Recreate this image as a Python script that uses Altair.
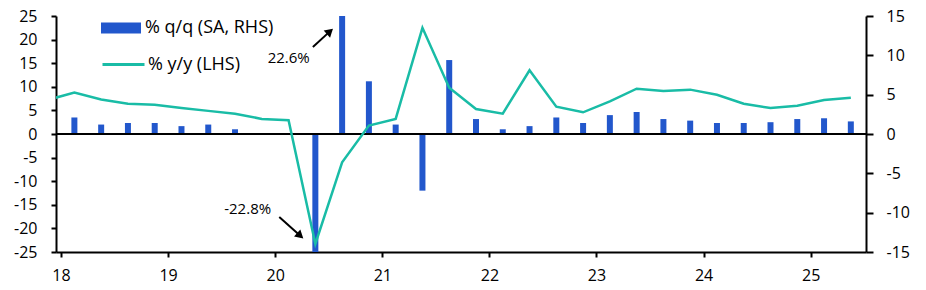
import altair as alt
import pandas as pd

FONT = "Open Sans"
BLUE = "#2257CC"
TEAL = "#19BCA6"

quarters = ["17Q4",
            "18Q1", "18Q2", "18Q3", "18Q4",
            "19Q1", "19Q2", "19Q3", "19Q4",
            "20Q1", "20Q2", "20Q3", "20Q4",
            "21Q1", "21Q2", "21Q3", "21Q4",
            "22Q1", "22Q2", "22Q3", "22Q4",
            "23Q1", "23Q2", "23Q3", "23Q4",
            "24Q1", "24Q2", "24Q3", "24Q4",
            "25Q1", "25Q2"]
qoq = [None,
       2.1, 1.2, 1.4, 1.4,
       1.0, 1.2, 0.6, 0.0,
       0.0, -22.8, 22.6, 6.7,
       1.2, -7.2, 9.4, 1.9,
       0.6, 1.0, 2.1, 1.4,
       2.4, 2.8, 1.9, 1.7,
       1.4, 1.4, 1.5, 1.9,
       2.0, 1.6]
yoy = [7.2,
       8.8, 7.3, 6.4, 6.2,
       5.5, 4.9, 4.3, 3.2,
       2.9, -23.3, -6.0, 1.8,
       3.2, 22.5, 9.8, 5.3,
       4.3, 13.5, 5.8, 4.6,
       6.9, 9.6, 9.1, 9.4,
       8.3, 6.4, 5.5, 6.0,
       7.2, 7.7]

bar_name = "% q/q (SA, RHS)"
line_name = "% y/y (LHS)"

# annotation texts and arrows (left-axis units)
ann_text = ["22.6%", "-22.8%"]
ann_x = [20.126, 19.743]
ann_y = [16.1, -15.9]
arr_x = [20.352, 20.038]
arr_y = [18.43, -17.58]
arr_x2 = [20.511, 20.234]
arr_y2 = [21.74, -21.55]
arr_angle = [47.9, 131.4]

t = [int(q[:2]) + (int(q[3]) - 0.5) / 4 for q in quarters]
df = pd.DataFrame({"t": t, "qoq": qoq, "yoy": yoy})
df["bs"] = bar_name
df["ls"] = line_name
bars_df = df.dropna(subset=["qoq"])
ann_df = pd.DataFrame({"text": ann_text, "x": ann_x, "y": ann_y})
arr_df = pd.DataFrame({"x": arr_x, "y": arr_y, "x2": arr_x2, "y2": arr_y2, "angle": arr_angle})
zero_df = pd.DataFrame({"v": [0]})

xscale = alt.Scale(domain=[18, 25.47], nice=False, zero=False)
lscale = alt.Scale(domain=[-25, 25], nice=False)
rscale = alt.Scale(domain=[-15, 15], nice=False)

common = dict(grid=False, title=None, domainColor="black", domainWidth=2,
              tickColor="black", tickWidth=2, labelColor="black",
              labelFontSize=16, labelFont=FONT, labelOverlap=False)

xaxis = alt.Axis(values=list(range(18, 26)), format="d", tickSize=5,
                 labelPadding=10, **common)
laxis = alt.Axis(orient="left", values=list(range(-25, 26, 5)), tickSize=5,
                 labelPadding=14, labelExpr="'' + datum.value", **common)
raxis = alt.Axis(orient="right", values=list(range(-15, 16, 5)), tickSize=7,
                 labelPadding=13, labelExpr="'' + datum.value", **common)

bars = alt.Chart(bars_df).mark_bar(size=6, clip=True).encode(
    x=alt.X("t:Q", scale=xscale, axis=xaxis),
    y=alt.Y("qoq:Q", scale=rscale, axis=raxis),
    y2=alt.datum(0),
    color=alt.Color("bs:N", scale=alt.Scale(domain=[bar_name], range=[BLUE]),
                    legend=alt.Legend(
                        title=None, orient="none", legendX=45, legendY=-8,
                        symbolType="M-1,-0.28H1V0.28H-1Z", symbolSize=1600,
                        symbolStrokeWidth=0, labelFontSize=18, labelFont=FONT,
                        labelColor="black", labelOffset=4, padding=0)),
)

zero = alt.Chart(zero_df).mark_rule(color="black", strokeWidth=2).encode(
    y=alt.Y("v:Q", scale=lscale, axis=laxis),
)

line = alt.Chart(df).mark_line(strokeWidth=2.5, clip=True).encode(
    x=alt.X("t:Q", scale=xscale, axis=xaxis),
    y=alt.Y("yoy:Q", scale=lscale, axis=laxis),
    stroke=alt.Stroke("ls:N", scale=alt.Scale(domain=[line_name], range=[TEAL]),
                      legend=alt.Legend(
                          title=None, orient="none", legendX=45, legendY=26,
                          symbolType="stroke", symbolSize=1764,
                          symbolStrokeWidth=3, labelFontSize=18, labelFont=FONT,
                          labelColor="black", labelOffset=2, padding=0)),
)

arrows = alt.Chart(arr_df).mark_rule(color="black", strokeWidth=2).encode(
    x=alt.X("x:Q", scale=xscale, axis=xaxis),
    y=alt.Y("y:Q", scale=lscale, axis=laxis),
    x2="x2:Q", y2="y2:Q",
)
heads = alt.Chart(arr_df).mark_point(shape="triangle-up", filled=True, size=90,
                                      color="black", opacity=1).encode(
    x=alt.X("x2:Q", scale=xscale, axis=xaxis),
    y=alt.Y("y2:Q", scale=lscale, axis=laxis),
    angle=alt.Angle("angle:Q", scale=None),
)
texts = alt.Chart(ann_df).mark_text(fontSize=15, font=FONT, color="black").encode(
    x=alt.X("x:Q", scale=xscale, axis=xaxis),
    y=alt.Y("y:Q", scale=lscale, axis=laxis),
    text="text:N",
)

left_layer = alt.layer(zero, line, arrows, heads, texts)

chart = alt.layer(bars, left_layer).resolve_scale(
    y="independent", color="independent", stroke="independent"
).properties(
    width=810, height=236,
    padding={"left": 56, "top": 16, "right": 60, "bottom": 38},
    autosize=alt.AutoSizeParams(type="none"),
).configure(font=FONT).configure_view(stroke=None).configure_axis(
    grid=False, domainColor="black", labelColor="black", tickColor="black",
    labelFontSize=16, labelFont=FONT, labelOverlap=False,
)

chart.save("out.html", embed_options={"renderer": "svg", "actions": False})
